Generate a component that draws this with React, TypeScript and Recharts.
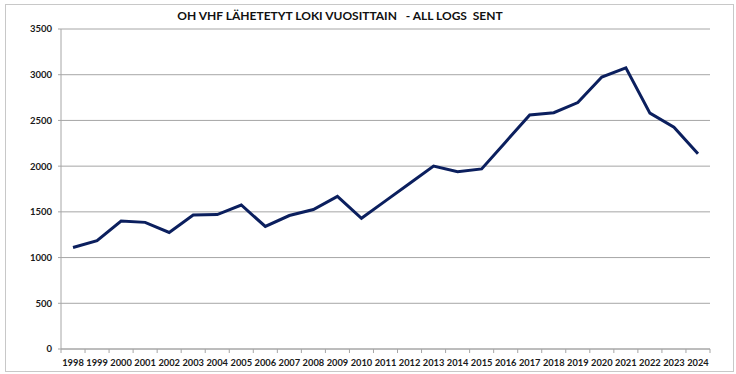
import React from "react";
import { LineChart, Line, XAxis, YAxis, CartesianGrid } from "recharts";

const years = ["1998","1999","2000","2001","2002","2003","2004","2005","2006","2007","2008","2009","2010","2011","2012","2013","2014","2015","2016","2017","2018","2019","2020","2021","2022","2023","2024"];
const logsSent = [1110,1185,1400,1385,1275,1465,1470,1575,1340,1460,1525,1670,1430,1620,1810,2000,1940,1970,2265,2560,2585,2695,2975,3075,2580,2425,2135];
const yTicks = [0,500,1000,1500,2000,2500,3000,3500];
const title = "OH VHF LÄHETETYT LOKI VUOSITTAIN   - ALL LOGS  SENT";

const data = years.map((y, i) => ({ year: y, value: logsSent[i] }));

const FONT = "Lato, 'Open Sans', sans-serif";

const XTick = (props: any) => {
  const { x, payload, index, visibleTicksCount } = props;
  const off = payload.offset || 0;
  const axisY = 349;
  return (
    <g>
      <line x1={x - off} x2={x - off} y1={axisY} y2={axisY + 4} stroke="#a6a6a6" />
      {index === visibleTicksCount - 1 && (
        <line x1={x + off} x2={x + off} y1={axisY} y2={axisY + 4} stroke="#a6a6a6" />
      )}
      <text x={x} y={axisY + 17} textAnchor="middle" fontFamily={FONT} fontWeight={700} fontSize={9.3} fill="#1a1a1a">
        {payload.value}
      </text>
    </g>
  );
};

export default function App() {
  return (
    <div style={{ position: "absolute", left: 0, top: 0, width: 736, height: 374, background: "#fff" }}>
      <div style={{ position: "absolute", left: 5, top: 4, width: 729, height: 368, border: "1px solid #c8c8c8", boxSizing: "border-box" }} />
      <div style={{ position: "absolute", left: 0, top: 8, width: 680, textAlign: "center", whiteSpace: "pre", fontFamily: FONT, fontWeight: 700, fontSize: 12, color: "#111" }}>
        {title}
      </div>
      <div style={{ position: "absolute", left: 0, top: 0 }}>
        <LineChart width={736} height={374} data={data} margin={{ top: 29, right: 26, bottom: 0, left: 0 }}>
          <CartesianGrid vertical={false} stroke="#a6a6a6" strokeWidth={1} />
          <XAxis
            dataKey="year"
            scale="band"
            height={25}
            axisLine={{ stroke: "#a6a6a6" }}
            tickLine={false}
            tick={<XTick />}
            interval={0}
          />
          <YAxis
            width={61}
            domain={[0, 3500]}
            ticks={yTicks}
            axisLine={{ stroke: "#a6a6a6" }}
            tickLine={{ stroke: "#a6a6a6" }}
            tickSize={3}
            tickMargin={6}
            tick={{ fontFamily: FONT, fontWeight: 700, fontSize: 9.5, fill: "#1a1a1a" }}
          />
          <Line type="linear" dataKey="value" stroke="#0b1f5e" strokeWidth={3} dot={false} isAnimationActive={false} />
        </LineChart>
      </div>
    </div>
  );
}
